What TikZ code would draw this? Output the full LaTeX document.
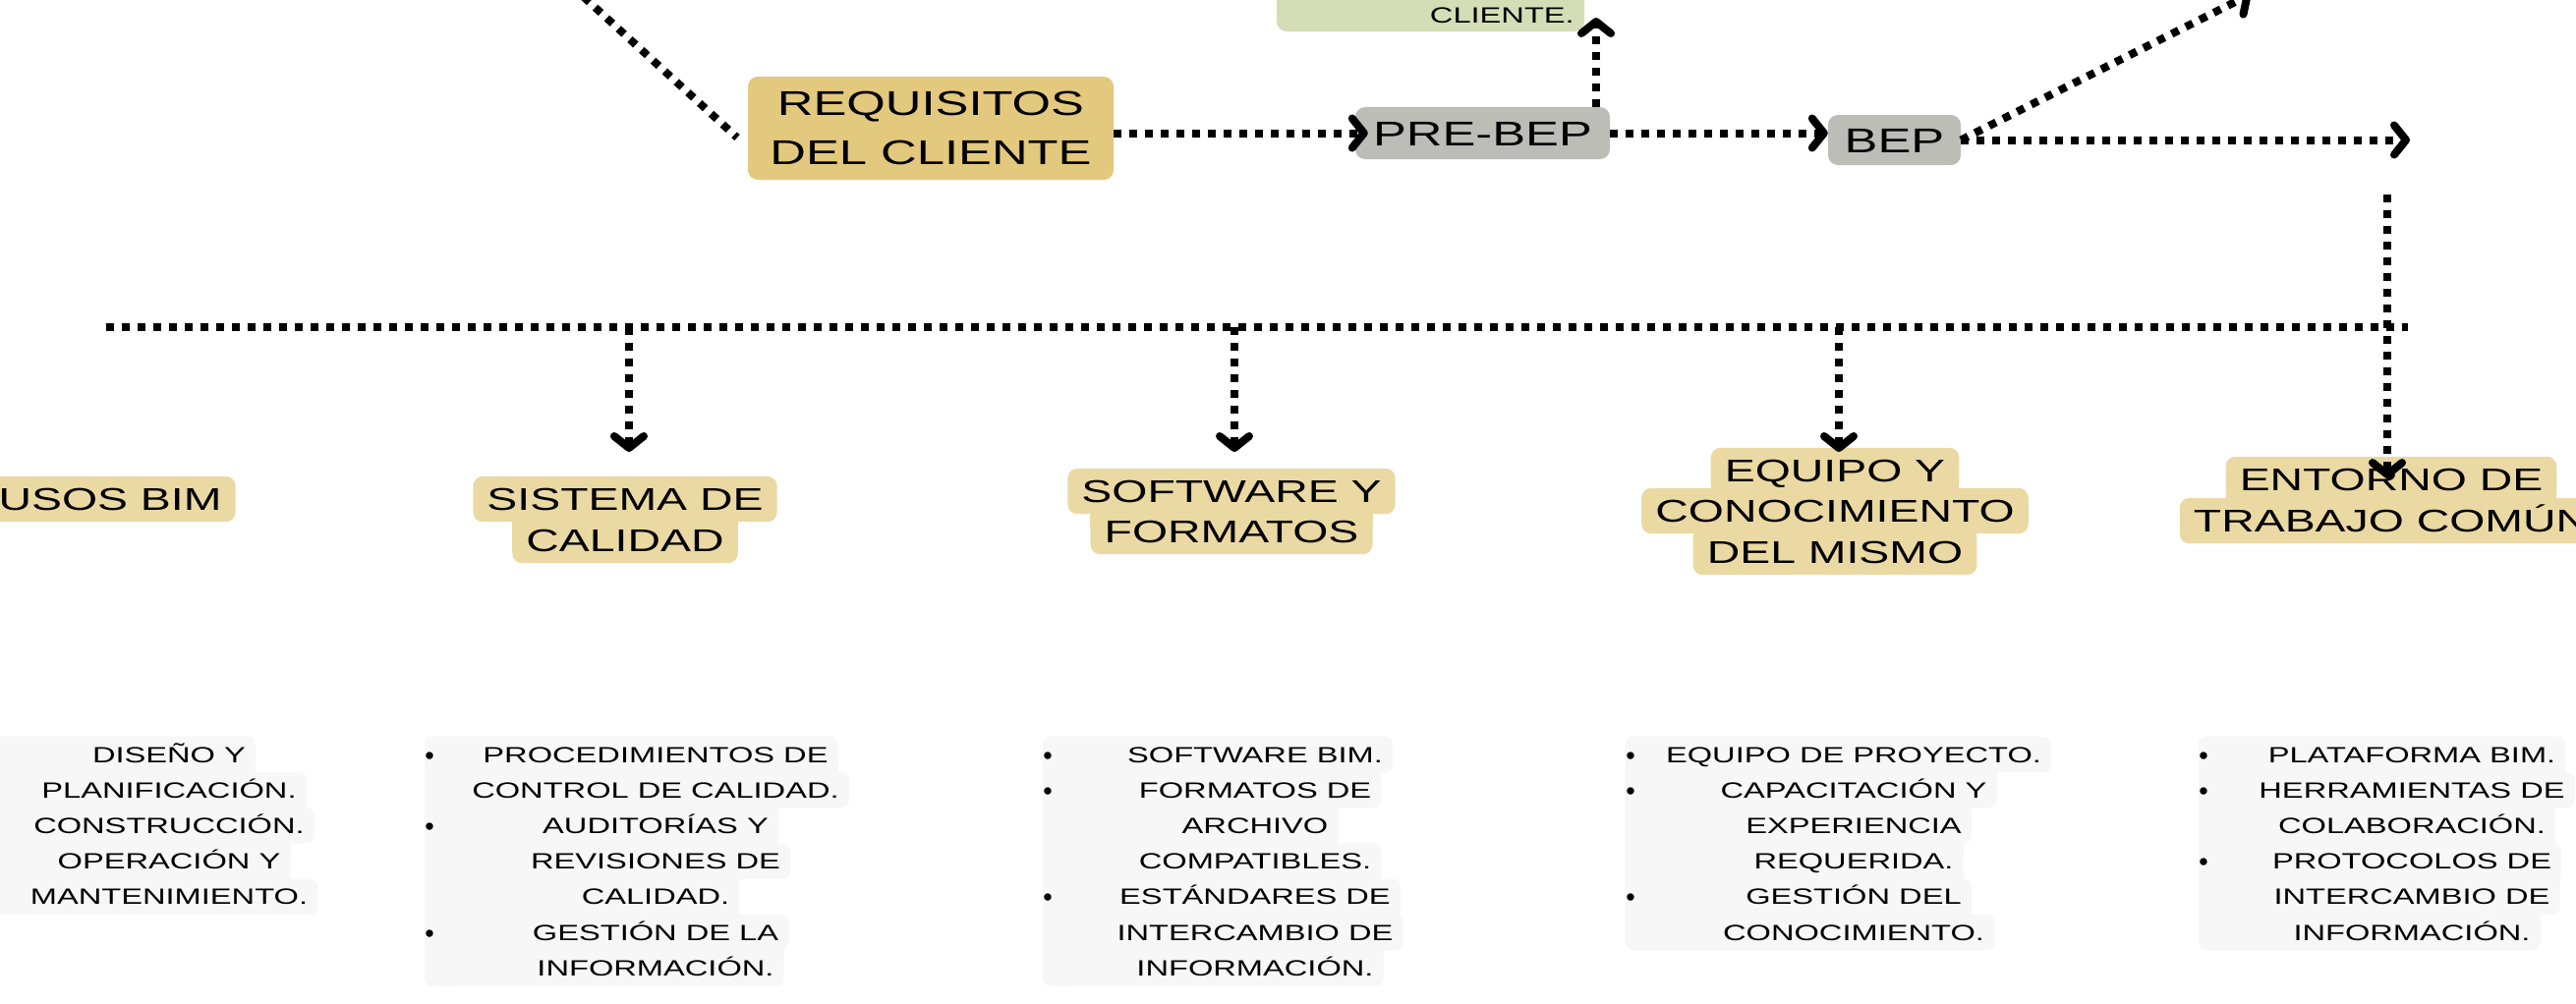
\documentclass[tikz,border=0pt]{standalone}
\usepackage{fontspec}
\newfontfamily\wf{Liberation Sans}[FakeStretch=1.45]
\newfontfamily\nf{Liberation Sans}
\usetikzlibrary{arrows.meta,calc}
\pgfdeclarelayer{bg}
\pgfdeclarelayer{canvas}
\pgfsetlayers{canvas,bg,main}
\definecolor{reqcol}{HTML}{E3C97E}
\definecolor{hdrcol}{HTML}{EBD9A4}
\definecolor{graycol}{HTML}{BDBDB8}
\definecolor{greencol}{HTML}{D5DDB6}
\definecolor{itemcol}{HTML}{F7F7F7}
\tikzset{
  dotline/.style={line width=8pt, dash pattern=on 8pt off 8pt, draw=black},
  flow/.style={dotline, -{Straight Barb[length=12pt,width=30pt,round]}},
  hdr/.style={font=\wf\fontsize{32}{42}\selectfont, inner xsep=14pt, inner ysep=0pt, text height=34.5pt, text depth=11.5pt},
  itm/.style={font=\wf\fontsize{22.5}{36}\selectfont, inner sep=0pt, text height=26.15pt, text depth=10.05pt},
  bul/.style={font=\nf\fontsize{27}{36}\selectfont, inner sep=0pt, anchor=base},
  big/.style={font=\wf\fontsize{35}{50}\selectfont, inner sep=0pt, text height=25.06pt, text depth=0pt},
  smalltxt/.style={font=\wf\fontsize{22.5}{36}\selectfont, inner sep=0pt, text height=16.1pt, text depth=0pt},
  box/.style={rounded corners=10pt, inner sep=0pt},
  hfill/.style={fill=hdrcol, rounded corners=10pt},
  ifill/.style={fill=itemcol, rounded corners=8pt},
}
\newcommand\hdrbg[1]{\fill[hfill] (#1.north west) rectangle (#1.south east);}
\newcommand\hdrjn[2]{\path[fill=hdrcol] let \p1=(#1.south west), \p2=(#1.south east), \p3=(#2.north west), \p4=(#2.north east) in ({max(\x1,\x3)}, {\y1+12pt}) rectangle ({min(\x2,\x4)}, {\y1-12pt});}
\newcommand\itemblock[5]{%
  \foreach \itx/\ibl [count=\i] in {#5} {
    \node[itm] (#1\i) at (#3, {-768-36.2*(\i-1)}) {\itx};
    \ifnum\ibl=1 \node[bul] (#1b\i) at (#2+5, {-768-36.2*(\i-1)-10}) {\textbullet};\fi
  }
  \begin{pgfonlayer}{bg}
    \fill[ifill] (#2,-749.9) rectangle ({#2+40}, {-768-36.2*(#4-1)-18.1});
    \foreach \i in {1,...,#4} {
      \path[ifill] let \p1=(#1\i.north east), \p2=(#1\i.south east) in (#2pt,\y1) rectangle (\x1+10pt,\y2);
    }
    \foreach \i in {2,...,#4} {
      \pgfmathtruncatemacro\prv{\i-1}
      \path[fill=itemcol] let \p1=(#1\prv.south east), \p2=(#1\i.north east) in (#2pt, \y1+9pt) rectangle ({min(\x1,\x2)+10pt}, \y1-9pt);
    }
  \end{pgfonlayer}
}
\begin{document}
\begin{tikzpicture}[x=1pt,y=1pt]
\useasboundingbox (0,0) rectangle (2621,-1021);
\begin{pgfonlayer}{canvas}
\fill[white] (0,0) rectangle (2621,-1021);
\end{pgfonlayer}

% top row
\node[fill=greencol, box, minimum width=313pt, minimum height=100pt] (cli) at (1455.5,18) {};
\node[smalltxt, anchor=east] (clit) at (1602,-15) {CLIENTE.};
\node[fill=reqcol, box, minimum width=372pt, minimum height=105pt] (req) at (947,-130.5) {};
\node[big] (req1) at ([yshift=26pt]req.center) {REQUISITOS};
\node[big] (req2) at ([yshift=-24pt]req.center) {DEL CLIENTE};
\node[fill=graycol, box, minimum width=259pt, minimum height=53pt, big] (pre) at (1508.5,-135.5) {PRE-BEP};
\node[fill=graycol, box, minimum width=135pt, minimum height=51pt, big] (bep) at (1927.5,-142.5) {BEP};

% headers
\node[hdr] (usos) at (112,-508) {USOS BIM};
\node[hdr] (sis1) at (636,-508) {SISTEMA DE};
\node[hdr] (sis2) at (636,-550) {CALIDAD};
\node[hdr] (sof1) at (1253,-500) {SOFTWARE Y};
\node[hdr] (sof2) at (1253,-541) {FORMATOS};
\node[hdr] (equ1) at (1867,-479) {EQUIPO Y};
\node[hdr] (equ2) at (1867,-520) {CONOCIMIENTO};
\node[hdr] (equ3) at (1867,-562) {DEL MISMO};
\node[hdr] (ent1) at (2433,-488) {ENTORNO DE};
\node[hdr] (ent2) at (2433,-530) {TRABAJO COMÚN};
\begin{pgfonlayer}{bg}
  \hdrbg{usos}
  \hdrbg{sis1} \hdrbg{sis2} \hdrjn{sis1}{sis2}
  \hdrbg{sof1} \hdrbg{sof2} \hdrjn{sof1}{sof2}
  \hdrbg{equ1} \hdrbg{equ2} \hdrbg{equ3} \hdrjn{equ1}{equ2} \hdrjn{equ2}{equ3}
  \hdrbg{ent1} \hdrbg{ent2} \hdrjn{ent1}{ent2}
\end{pgfonlayer}

% item blocks
\itemblock{ua}{-30}{172}{5}{DISEÑO Y/0, PLANIFICACIÓN./0, CONSTRUCCIÓN./0, OPERACIÓN Y/0, MANTENIMIENTO./0}
\itemblock{sc}{432}{667}{7}{PROCEDIMIENTOS DE/1, CONTROL DE CALIDAD./0, AUDITORÍAS Y/1, REVISIONES DE/0, CALIDAD./0, GESTIÓN DE LA/1, INFORMACIÓN./0}
\itemblock{sf}{1061}{1277}{7}{SOFTWARE BIM./1, FORMATOS DE/1, ARCHIVO/0, COMPATIBLES./0, ESTÁNDARES DE/1, INTERCAMBIO DE/0, INFORMACIÓN./0}
\itemblock{eq}{1654}{1886}{6}{EQUIPO DE PROYECTO./1, CAPACITACIÓN Y/1, EXPERIENCIA/0, REQUERIDA./0, GESTIÓN DEL/1, CONOCIMIENTO./0}
\itemblock{en}{2237}{2454}{6}{PLATAFORMA BIM./1, HERRAMIENTAS DE/1, COLABORACIÓN./0, PROTOCOLOS DE/1, INTERCAMBIO DE/0, INFORMACIÓN./0}

% connectors
\coordinate (tl) at (582,14);
\coordinate (tle) at (750,-140);
\draw[dotline] (tl) -- (tle);
\draw[flow] (req.east |- pre.west) -- ([xshift=13pt]pre.west);
\coordinate (uptip) at (1624,-18);
\draw[flow] (pre.north -| uptip) -- (uptip);
\draw[flow] (pre.east) -- (pre.east -| bep.west);
\coordinate (rtip) at (2452,-142.5);
\draw[flow] (bep.east) -- (rtip);
\coordinate (drtip) at (2290,6);
\draw[flow] (bep.east) -- (drtip);
\coordinate (vtop) at (2429,-198);
\coordinate (vtip) at (2429,-487);
\draw[flow] (vtop) -- (vtip);
\coordinate (busL) at (108,-333);
\coordinate (busR) at (2450,-333);
\draw[dotline] (busL) -- (busR);
\foreach \k/\xx in {1/640,2/1256,3/1871} {
  \coordinate (tap\k) at (\xx,-333);
  \coordinate (tip\k) at (\xx,-460);
  \draw[flow] (tap\k) -- (tip\k);
}
\end{tikzpicture}
\end{document}
